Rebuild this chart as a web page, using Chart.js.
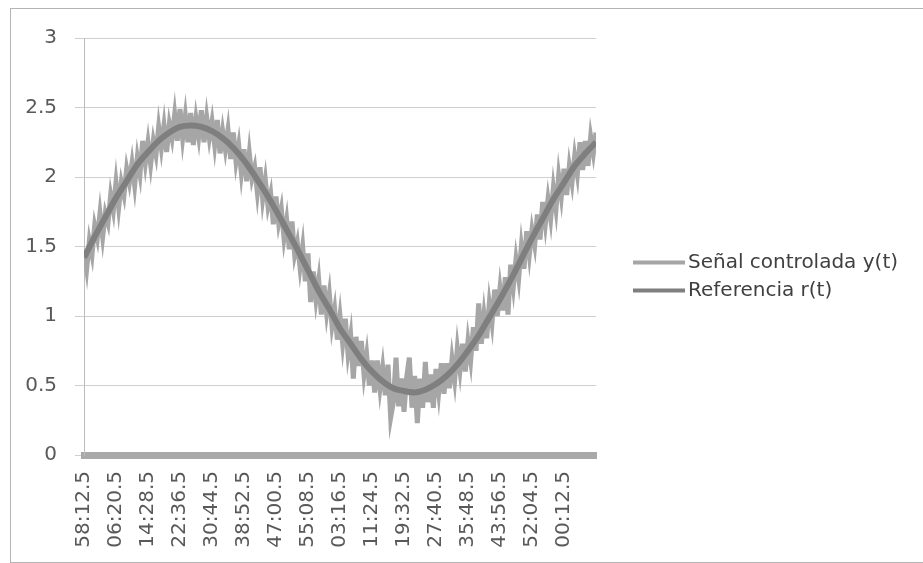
<!DOCTYPE html>
<html>
<head>
<meta charset="utf-8">
<script src="https://cdn.jsdelivr.net/npm/chart.js@4.4.0/dist/chart.umd.min.js"></script>
<style>
  html, body { margin: 0; background: #fff; overflow: hidden; }
  #marco { position: absolute; left: 10px; top: 8px; width: 940px; height: 553px; border: 1px solid #b4b4b4; }
  #contenedor { position: absolute; left: 0; top: 0; width: 923px; height: 563px; }
</style>
</head>
<body>
<div id="marco"></div>
<div id="contenedor"><canvas id="grafica"></canvas></div>
<script>
// etiquetas del eje de tiempo (mm:ss.s), una cada 12 muestras
const tickLabels = ['58:12.5', '06:20.5', '14:28.5', '22:36.5', '30:44.5', '38:52.5', '47:00.5', '55:08.5',
  '03:16.5', '11:24.5', '19:32.5', '27:40.5', '35:48.5', '43:56.5', '52:04.5', '00:12.5'];
const MUESTRAS_POR_ETIQUETA = 12;

// señal medida, una muestra por paso
const senal = [
  1.48, 1.34, 1.54, 1.44, 1.65, 1.56, 1.74, 1.57, 1.74, 1.67, 1.87, 1.76,
  1.96, 1.78, 1.96, 1.87, 2.06, 1.96, 2.10, 1.94, 2.14, 2.02, 2.26, 2.10,
  2.25, 2.09, 2.26, 2.16, 2.36, 2.21, 2.37, 2.18, 2.38, 2.28, 2.45, 2.26,
  2.49, 2.28, 2.44, 2.25, 2.46, 2.23, 2.42, 2.29, 2.48, 2.25, 2.43, 2.28,
  2.40, 2.23, 2.41, 2.17, 2.33, 2.20, 2.34, 2.13, 2.32, 2.11, 2.23, 2.03,
  2.20, 1.97, 2.17, 1.99, 2.07, 1.89, 2.07, 1.84, 1.98, 1.79, 1.88, 1.66,
  1.86, 1.67, 1.77, 1.56, 1.69, 1.48, 1.68, 1.44, 1.53, 1.35, 1.50, 1.25,
  1.45, 1.10, 1.32, 1.12, 1.26, 1.01, 1.22, 1.02, 1.16, 0.93, 1.05, 0.83,
  1.00, 0.80, 0.98, 0.73, 0.86, 0.55, 0.85, 0.64, 0.82, 0.58, 0.72, 0.50,
  0.68, 0.45, 0.68, 0.48, 0.63, 0.43, 0.65, 0.27, 0.38, 0.70, 0.35, 0.55,
  0.31, 0.56, 0.70, 0.34, 0.57, 0.23, 0.55, 0.34, 0.67, 0.38, 0.58, 0.34,
  0.62, 0.45, 0.66, 0.44, 0.66, 0.48, 0.69, 0.54, 0.77, 0.61, 0.80, 0.60,
  0.82, 0.68, 0.92, 0.75, 1.09, 0.80, 1.01, 0.84, 1.09, 0.95, 1.19, 1.00,
  1.20, 1.04, 1.28, 1.01, 1.37, 1.21, 1.41, 1.27, 1.50, 1.34, 1.61, 1.44,
  1.62, 1.51, 1.73, 1.55, 1.82, 1.66, 1.84, 1.70, 1.92, 1.77, 2.01, 1.86,
  2.06, 1.87, 2.08, 1.96, 2.15, 2.02, 2.25, 2.05, 2.26, 2.08, 2.29, 2.17,
  2.32
];

// referencia, una muestra cada 4 pasos
const referencia = [
  1.42, 1.57, 1.71, 1.85, 1.97, 2.09, 2.18, 2.26, 2.32, 2.36, 2.37, 2.36,
  2.33, 2.28, 2.21, 2.12, 2.01, 1.89, 1.76, 1.62, 1.48, 1.33, 1.18, 1.05,
  0.91, 0.80, 0.69, 0.60, 0.53, 0.48, 0.46, 0.45, 0.47, 0.51, 0.57, 0.65,
  0.75, 0.86, 0.99, 1.12, 1.26, 1.41, 1.56, 1.70, 1.84, 1.96, 2.08, 2.17,
  2.25
];
const PASO_SENAL = 1;
const PASO_REF = 4;

const FUENTE = '"DejaVu Sans", sans-serif';

// leyenda a la derecha: trazo corto + texto, en el orden de los datasets
const leyenda = {
  id: 'leyenda',
  afterDraw(chart) {
    const { ctx, chartArea } = chart;
    const x0 = chartArea.right + 37;
    const yCentro = (chartArea.top + chartArea.bottom) / 2 + 16;
    ctx.save();
    ctx.font = '20px ' + FUENTE;
    ctx.textBaseline = 'middle';
    chart.data.datasets.forEach((ds, i) => {
      const y = yCentro + i * 28;
      ctx.strokeStyle = ds.borderColor;
      ctx.lineWidth = 4;
      ctx.beginPath();
      ctx.moveTo(x0, y);
      ctx.lineTo(x0 + 52, y);
      ctx.stroke();
      ctx.fillStyle = '#404040';
      ctx.fillText(ds.label, x0 + 55, y);
    });
    ctx.restore();
  }
};

const ctx = document.getElementById('grafica').getContext('2d');

Chart.defaults.font.family = FUENTE;
Chart.defaults.font.size = 20;
Chart.defaults.color = '#595959';

const grafica = new Chart(ctx, {
  type: 'line',
  data: {
    datasets: [
      {
        label: 'Señal controlada y(t)',
        data: senal.map((v, i) => ({ x: i * PASO_SENAL, y: v })),
        borderColor: '#a6a6a6',
        borderWidth: 5,
        pointRadius: 0,
        tension: 0,
        order: 1
      },
      {
        label: 'Referencia r(t)',
        data: referencia.map((v, i) => ({ x: i * PASO_REF, y: v })),
        borderColor: '#7f7f7f',
        borderWidth: 6,
        pointRadius: 0,
        tension: 0.3,
        order: 0
      }
    ]
  },
  plugins: [leyenda],
  options: {
    animation: false,
    responsive: true,
    maintainAspectRatio: false,
    layout: { padding: { top: 38, bottom: 8, left: 0, right: 327 } },
    plugins: {
      tooltip: { enabled: false },
      legend: { display: false }
    },
    scales: {
      x: {
        type: 'linear',
        min: 0,
        max: tickLabels.length * MUESTRAS_POR_ETIQUETA,
        grid: { display: false, drawTicks: false },
        border: { color: '#a9a9a9', width: 7 },
        ticks: {
          stepSize: MUESTRAS_POR_ETIQUETA,
          autoSkip: false,
          maxRotation: 90,
          minRotation: 90,
          padding: 16,
          callback: v => tickLabels[v / MUESTRAS_POR_ETIQUETA] ?? ''
        },
        afterFit: s => { s.height = 100; }
      },
      y: {
        min: 0,
        max: 3,
        grid: { color: '#cfcfcf', tickLength: 9 },
        border: { color: '#bdbdbd' },
        ticks: { stepSize: 0.5, padding: 18, callback: v => String(v) },
        afterFit: s => { s.width = 84; }
      }
    }
  }
});
</script>
</body>
</html>
